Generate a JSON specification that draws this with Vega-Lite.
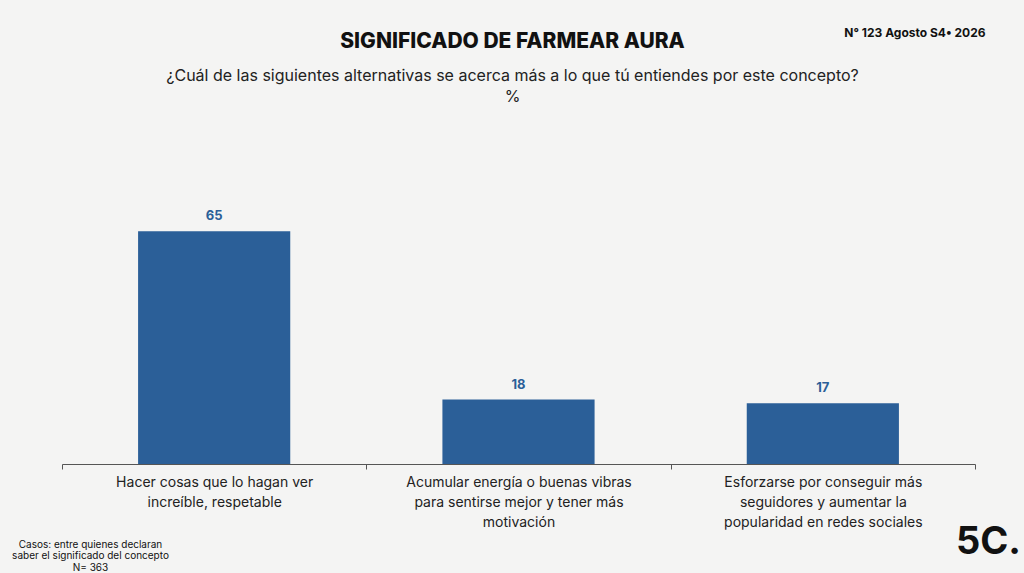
{
  "$schema": "https://vega.github.io/schema/vega-lite/v6.json",
  "width": 913,
  "height": 358,
  "autosize": {"type": "none"},
  "padding": {"left": 62, "top": 106, "right": 49, "bottom": 109},
  "background": "#f4f4f3",
  "config": {
    "view": {"stroke": null},
    "font": "Inter",
    "axisBand": {"tickBand": "extent", "ticks": true, "tickExtra": true}
  },
  "title": {
    "text": "SIGNIFICADO DE FARMEAR AURA",
    "subtitle": [
      "¿Cuál de las siguientes alternativas se acerca más a lo que tú entiendes por este concepto?",
      "%"
    ],
    "anchor": "middle",
    "dx": -6,
    "offset": -79,
    "fontSize": 21,
    "fontWeight": 800,
    "color": "#111111",
    "subtitleFontSize": 16,
    "subtitleColor": "#222222",
    "subtitlePadding": 16,
    "subtitleLineHeight": 21
  },
  "data": {
    "values": [
      {"opcion": "Hacer cosas que lo hagan ver|increíble, respetable", "pct": 65},
      {"opcion": "Acumular energía o buenas vibras|para sentirse mejor y tener más|motivación", "pct": 18},
      {"opcion": "Esforzarse por conseguir más|seguidores y aumentar la|popularidad en redes sociales", "pct": 17}
    ]
  },
  "resolve": {"axis": {"x": "independent", "y": "independent"}},
  "layer": [
    {
      "mark": {"type": "bar", "color": "#2b5f98", "width": {"band": 0.5}},
      "encoding": {
        "x": {
          "field": "opcion",
          "type": "nominal",
          "sort": null,
          "scale": {"paddingInner": 0, "paddingOuter": 0},
          "axis": {
            "orient": "bottom",
            "labelExpr": "split(datum.label, '|')",
            "labelAngle": 0,
            "labelFontSize": 14,
            "labelColor": "#222222",
            "labelLineHeight": 20,
            "labelPadding": 6,
            "labelLimit": 320,
            "labelBaseline": "top",
            "ticks": true,
            "tickBand": "extent",
            "tickSize": 5,
            "tickWidth": 1,
            "tickColor": "#555555",
            "domainColor": "#555555",
            "grid": false,
            "title": ["Casos: entre quienes declaran", "saber el significado del concepto", "N= 363"],
            "titleFontSize": 10,
            "titleFontWeight": "normal",
            "titleColor": "#111111",
            "titleAlign": "center",
            "titleBaseline": "top",
            "titleLineHeight": 11.5,
            "titleX": 28,
            "titleY": 75
          }
        },
        "y": {
          "field": "pct",
          "type": "quantitative",
          "scale": {"domain": [0, 100]},
          "axis": null
        }
      }
    },
    {
      "mark": {
        "type": "text",
        "baseline": "bottom",
        "dy": -8,
        "fontSize": 13,
        "fontWeight": "bold",
        "color": "#2b5f98"
      },
      "encoding": {
        "x": {
          "field": "opcion",
          "type": "nominal",
          "sort": null,
          "axis": {
            "orient": "top",
            "labels": false,
            "ticks": false,
            "domain": false,
            "grid": false,
            "title": "N°  123 Agosto S4• 2026",
            "titleFontSize": 12,
            "titleFontWeight": "bold",
            "titleColor": "#111111",
            "titleAlign": "right",
            "titleBaseline": "middle",
            "titleX": 923,
            "titleY": -74
          }
        },
        "y": {
          "field": "pct",
          "type": "quantitative",
          "axis": {
            "orient": "right",
            "labels": false,
            "ticks": false,
            "domain": false,
            "grid": false,
            "title": "5C.",
            "titleAngle": 0,
            "titleFontSize": 38,
            "titleFontWeight": "bold",
            "titleColor": "#111111",
            "titleAlign": "center",
            "titleBaseline": "middle",
            "titleX": 13,
            "titleY": 436
          }
        },
        "text": {"field": "pct", "type": "quantitative"}
      }
    }
  ]
}
